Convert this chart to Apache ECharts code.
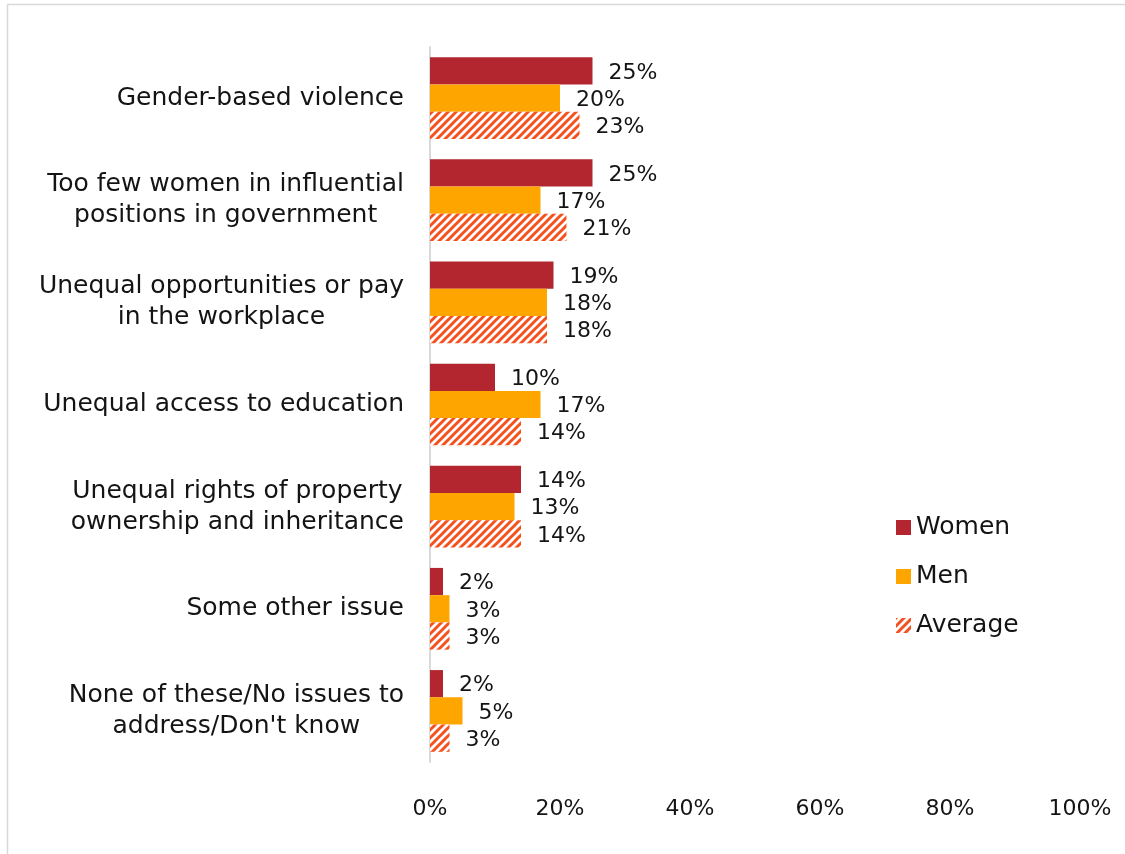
<!DOCTYPE html>
<html>
<head>
<meta charset="utf-8">
<script src="https://cdn.jsdelivr.net/npm/echarts@6/dist/echarts.min.js"></script>
<style>
  html, body { margin: 0; padding: 0; background: #fff; }
  #chart { width: 1125px; height: 854px; }
</style>
</head>
<body>
<div id="chart"></div>
<script>
// Issue categories, top to bottom
const categories = [
  'Gender-based violence',
  'Too few women in influential\npositions in government',
  'Unequal opportunities or pay\nin the workplace',
  'Unequal access to education',
  'Unequal rights of property\nownership and inheritance',
  'Some other issue',
  'None of these/No issues to\naddress/Don\'t know'
];
const seriesNames = ['Women', 'Men', 'Average'];
const women = [25, 25, 19, 10, 14, 2, 2];
const men = [20, 17, 18, 17, 13, 3, 5];
const average = [23, 21, 18, 14, 14, 3, 3];
const xTicks = [0, 20, 40, 60, 80, 100];

const FONT = '"DejaVu Sans", sans-serif';
const INK = '#141414';

// Diagonal stripe fill for the average bars
function stripePattern() {
  const s = 8;
  const c = document.createElement('canvas');
  c.width = s; c.height = s;
  const ctx = c.getContext('2d');
  ctx.fillStyle = '#ffffff';
  ctx.fillRect(0, 0, s, s);
  ctx.strokeStyle = '#F4511E';
  ctx.lineWidth = 3;
  ctx.lineCap = 'square';
  for (let k = -1; k <= 1; k++) {
    ctx.beginPath();
    ctx.moveTo(k * s, s);
    ctx.lineTo(k * s + s, 0);
    ctx.stroke();
  }
  return c;
}

const chart = echarts.init(document.getElementById('chart'));
const valueLabel = {
  show: true,
  position: 'right',
  distance: 16,
  offset: [0, 2],
  formatter: p => p.value + '%',
  fontFamily: FONT,
  fontSize: 22,
  color: INK
};

chart.setOption({
  backgroundColor: '#ffffff',
  animation: false,
  graphic: [{
    type: 'rect',
    shape: { x: 7.5, y: 4.5, width: 1300, height: 1000 },
    style: { fill: 'none', stroke: '#d9d9d9', lineWidth: 1.5 },
    silent: true
  }],
  grid: { left: 430, right: 45, top: 47, bottom: 92, containLabel: false },
  legend: {
    orient: 'vertical',
    left: 891,
    top: 510,
    itemWidth: 15,
    itemHeight: 15,
    itemGap: 24,
    icon: 'rect',
    data: seriesNames,
    textStyle: { fontFamily: FONT, fontSize: 25, lineHeight: 24, color: INK }
  },
  xAxis: {
    type: 'value',
    min: 0,
    max: 100,
    interval: 20,
    axisLine: { show: false },
    axisTick: { show: false },
    splitLine: { show: false },
    axisLabel: {
      margin: 36,
      fontFamily: FONT,
      fontSize: 22,
      color: INK,
      formatter: v => xTicks.includes(v) ? v + '%' : ''
    }
  },
  yAxis: {
    type: 'category',
    inverse: true,
    data: categories,
    axisLine: { show: true, lineStyle: { color: '#d9d9d9', width: 2 } },
    axisTick: { show: false },
    axisLabel: {
      margin: 26,
      align: 'right',
      formatter: v => v.split('\n').map(l => '{t|' + l + '}').join('\n'),
      rich: {
        t: {
          fontFamily: FONT,
          fontSize: 25,
          color: INK,
          lineHeight: 31,
          align: 'center'
        }
      }
    }
  },
  series: [
    {
      name: 'Women', type: 'bar', data: women,
      barGap: '0%', barCategoryGap: '20%',
      itemStyle: { color: '#B3262F' },
      label: valueLabel
    },
    {
      name: 'Men', type: 'bar', data: men,
      itemStyle: { color: '#FFA500' },
      label: valueLabel
    },
    {
      name: 'Average', type: 'bar', data: average,
      itemStyle: { color: { image: stripePattern(), repeat: 'repeat' } },
      label: valueLabel
    }
  ]
});
</script>
</body>
</html>
